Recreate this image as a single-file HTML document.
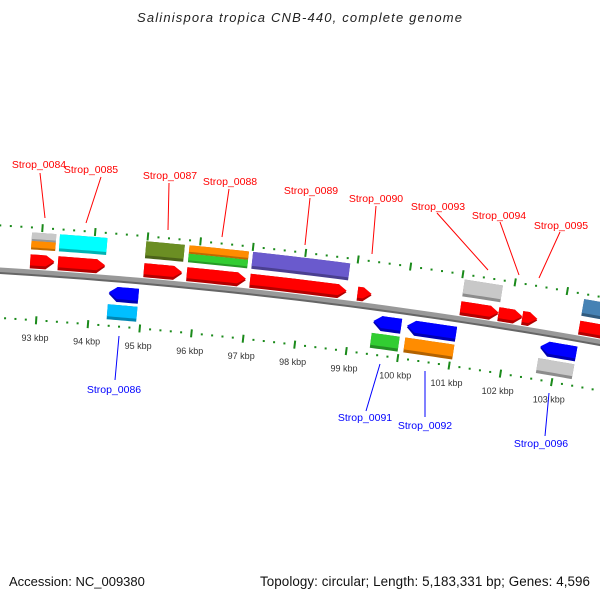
<!DOCTYPE html>
<html><head><meta charset="utf-8"><style>
html,body{margin:0;padding:0;background:#fff;}
svg{display:block;font-family:"Liberation Sans",sans-serif;}
</style></head><body>
<svg id="map" width="600" height="600" viewBox="0 0 600 600">
<rect width="600" height="600" fill="#fff"/>
<text x="137" y="22" textLength="325" lengthAdjust="spacing" font-size="13" font-style="italic" fill="#222">Salinispora tropica CNB-440, complete genome</text>
<text x="9" y="586" font-size="13" fill="#111">Accession: NC_009380</text>
<text x="260" y="586" textLength="330" lengthAdjust="spacing" font-size="13.4" fill="#111">Topology: circular; Length: 5,183,331 bp; Genes: 4,596</text>
<g id="layer"></g>
</svg>
<script>
// data
const geneNames = ["Strop_0084","Strop_0085","Strop_0087","Strop_0088","Strop_0089","Strop_0090","Strop_0093","Strop_0094","Strop_0095","","Strop_0086","Strop_0091","Strop_0092","Strop_0096"];
const geneStart = [92.81,93.34,94.98,95.80,97.01,99.07,101.05,101.78,102.24,103.34,94.35,99.44,100.09,102.67];
const geneEnd   = [93.27,94.24,95.71,96.93,98.86,99.34,101.78,102.24,102.53,104.6,94.92,99.98,101.04,103.37];
const geneStrand = [1,1,1,1,1,1,1,1,1,1,-1,-1,-1,-1];
const geneColorA = ["#c8c8c8","#00ffff","#6b8e23","#ff8c00","#6a5acd","","#c8c8c8","","","#4682b4","#00bfff","#32cd32","#ff8c00","#c8c8c8"];
const geneColorB = ["#ff8c00","","","#32cd32","","","","","","","","","",""];
const tickKbp = [93,94,95,96,97,98,99,100,101,102,103];
const tickLabels = ["93 kbp","94 kbp","95 kbp","96 kbp","97 kbp","98 kbp","99 kbp","100 kbp","101 kbp","102 kbp","103 kbp"];
const labelXY = [[39,168],[91,173],[170,179],[230,185],[311,194],[376,202],[438,210],[499,219],[561,229],null,[114,393],[365,421],[425,429],[541,447]];
const labelLine = [[40,173,45,218],[101,177,86,223],[169,183,168,230],[229,189,222,237],[310,198,305,245],[376,206,372,254],[437,213,488,270],[500,222,519,275],[560,232,539,278],null,[119,336,115,380],[380,364,366,411],[425,371,425,417],[549,393,545,436]];

const CX=-312, CY=5404, A0=0.06838, K=0.010194;
function P(kbp,r){const a=A0+(kbp-93)*K;return [CX+r*Math.sin(a),CY-r*Math.cos(a)];}
const NS="http://www.w3.org/2000/svg";
const layer=document.getElementById('layer');
function mk(tag,attrs){const e=document.createElementNS(NS,tag);for(const k in attrs)e.setAttribute(k,attrs[k]);layer.appendChild(e);return e;}
function arc(s,e,r,n){const pts=[];for(let i=0;i<=n;i++){pts.push(P(s+(e-s)*i/n,r));}return pts;}
function poly(pts){return pts.map(p=>p[0].toFixed(2)+","+p[1].toFixed(2)).join(" ");}
function boxPts(s,e,r0,r1){return arc(s,e,r1,8).concat(arc(e,s,r0,8));}
function arrowPts(s,e,r0,r1,dir){
  const h=Math.min(0.16,(e-s)*0.6), rm=(r0+r1)/2;
  if(dir>0){return arc(s,e-h,r1,8).concat([P(e,rm)]).concat(arc(e-h,s,r0,8));}
  return [P(s,rm)].concat(arc(s+h,e,r1,8)).concat(arc(e,s+h,r0,8));
}
function shade(c,f){const n=parseInt(c.slice(1),16);let r=(n>>16)&255,g=(n>>8)&255,b=n&255;r=Math.round(r*f);g=Math.round(g*f);b=Math.round(b*f);return "rgb("+r+","+g+","+b+")";}
function drawShape(pts,color,name){
  const p=mk('polygon',{points:poly(pts),fill:color});
  
  
}

const bb=mk('polygon',{points:poly(arc(91.5,105,5146,40).concat(arc(105,91.5,5140,40))),fill:'#999'});


const bbd=mk('polygon',{points:poly(arc(91.5,105,5141.5,40).concat(arc(105,91.5,5139.5,40))),fill:'#666'});



[5188,5095.6].forEach((R,ri)=>{
  for(let k=920;k<=1046;k+=2){
    const kb=k/10;
    if(k%10===0){
      const a=P(kb,R-4),b=P(kb,R+4);
      const t=mk('line',{x1:a[0],y1:a[1],x2:b[0],y2:b[1],stroke:'#1a8a1a','stroke-width':2});
      
      
    } else {
      const c=P(kb,R);
      const d=mk('rect',{x:c[0]-1,y:c[1]-1,width:2,height:2,fill:'#1a8a1a'});
      
      
    }
  }
});
tickKbp.forEach((k,i)=>{
  const c=P(k,5078);
  const t=mk('text',{x:c[0],y:c[1]+3,'text-anchor':'middle','font-size':9,fill:'#333'});
  t.textContent=tickLabels[i];
  
  
});

geneNames.forEach((nm,i)=>{
  const s=geneStart[i],e=geneEnd[i],d=geneStrand[i];
  const id=nm?nm.toLowerCase().replace('_','-'):'gene-unnamed';
  let ar0,ar1,b0,b1;
  if(d>0){ar0=5147;ar1=5161;b0=5166;b1=5183;}else{ar0=5120;ar1=5135;b0=5102;b1=5117;}
  const ac=d>0?'#ff0000':'#0000ff';
  drawShape(arrowPts(s,e,ar0,ar1,d),shade(ac,0.7),id+'-arrow-shadow');
  drawShape(arrowPts(s,e,ar0+3,ar1,d),ac,id+'-arrow');
  if(geneColorA[i]){
    if(geneColorB[i]){
      const m=(b0+b1)/2;
      drawShape(boxPts(s,e,m,b1),shade(geneColorA[i],0.75),id+'-box-a-shadow');
      drawShape(boxPts(s,e,m+2,b1),geneColorA[i],id+'-box-a');
      drawShape(boxPts(s,e,b0,m),shade(geneColorB[i],0.75),id+'-box-b-shadow');
      drawShape(boxPts(s,e,b0+2,m),geneColorB[i],id+'-box-b');
    } else {
      drawShape(boxPts(s,e,b0,b1),shade(geneColorA[i],0.7),id+'-box-shadow');
      drawShape(boxPts(s,e,b0+3,b1),geneColorA[i],id+'-box');
    }
  }
  if(nm && labelXY[i]){
    const col=d>0?'#ff0000':'#0000ff';
    const L=labelLine[i];
    const ln=mk('line',{x1:L[0],y1:L[1],x2:L[2],y2:L[3],stroke:col,'stroke-width':1});
    
    
    const t=mk('text',{x:labelXY[i][0],y:labelXY[i][1],'text-anchor':'middle','font-size':10.5,fill:col});
    t.textContent=nm;
    
    
  }
});
</script>
</body></html>
